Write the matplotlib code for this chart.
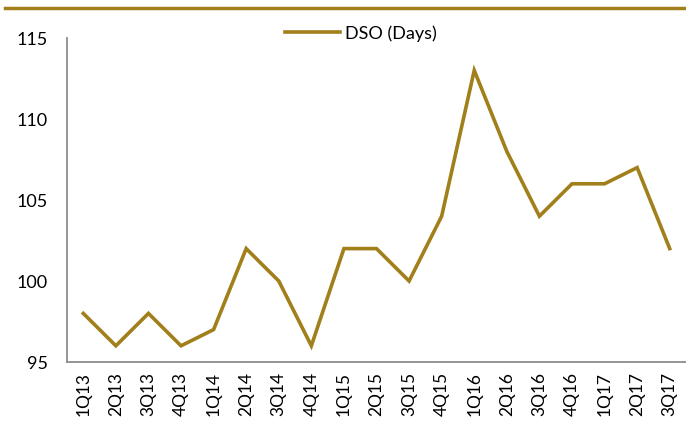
import matplotlib
matplotlib.use("Agg")
import matplotlib.pyplot as plt
from matplotlib.lines import Line2D

quarters = ["1Q13", "2Q13", "3Q13", "4Q13", "1Q14", "2Q14", "3Q14", "4Q14", "1Q15", "2Q15",
            "3Q15", "4Q15", "1Q16", "2Q16", "3Q16", "4Q16", "1Q17", "2Q17", "3Q17"]
dso = [98, 96, 98, 96, 97, 102, 100, 96, 102, 102, 100, 104, 113, 108, 104, 106, 106, 107, 102]
yticks = [95, 100, 105, 110, 115]

gold = "#A17F1A"
plt.rcParams['font.family'] = ['Lato', 'DejaVu Sans']

fig = plt.figure(figsize=(6.86, 4.23), dpi=100)
ax = fig.add_axes([67/686, 1 - 362/423, 619/686, (362 - 38)/423])
x = list(range(len(quarters)))
ax.plot(x, dso, color=gold, lw=2.6, solid_joinstyle='miter', label="DSO (Days)")
ax.set_xlim(-0.5, len(quarters) - 0.5)
ax.set_ylim(95, 115)
ax.set_yticks(yticks)
ax.set_xticks(x)
ax.set_xticklabels(quarters, rotation=90, fontsize=12.5)
ax.tick_params(axis='y', labelsize=13, length=0, pad=14)
ax.tick_params(axis='x', length=0, pad=7)
for s in ['top', 'right']:
    ax.spines[s].set_visible(False)
for s in ['left', 'bottom']:
    ax.spines[s].set_color("#8C8C8C")
    ax.spines[s].set_linewidth(1.3)

leg = ax.legend(loc='upper center', bbox_to_anchor=(0.475, 1.09), frameon=False, fontsize=13,
                handlelength=3.0, handletextpad=0.3)

fig.add_artist(Line2D([5/686, 1], [1 - 8/423, 1 - 8/423], color=gold, lw=2.5, transform=fig.transFigure))

fig.savefig("out.png", dpi=100)
